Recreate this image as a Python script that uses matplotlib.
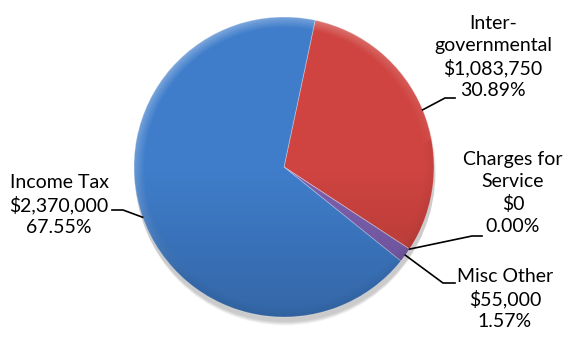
import numpy as np
import matplotlib
matplotlib.use("Agg")
import matplotlib.pyplot as plt
from matplotlib.patches import Circle

# data
categories = ["Inter-\ngovernmental", "Charges for\nService", "Misc Other", "Income Tax"]
amounts = [1083750, 0, 55000, 2370000]
percents = ["30.89%", "0.00%", "1.57%", "67.55%"]
colors = ["#CF4440", "#7D60B0", "#7D60B0", "#3F7DCB"]

W, H = 564, 342
fig = plt.figure(figsize=(W / 100, H / 100), dpi=100)
ax = fig.add_axes([0, 0, 1, 1])
ax.set_xlim(0, W)
ax.set_ylim(0, H)
ax.set_aspect("equal")
ax.axis("off")

cx, cy, r = 284, H - 167, 150
start = 78  # degrees, first slice starts slightly right of 12 o'clock

# soft shadow under the pie
for k in range(6):
    ax.add_patch(Circle((cx + 1, cy - 4 - k), r + 1 - k * 0.3, color="black",
                        alpha=0.035, lw=0, zorder=1))

wedges, _ = ax.pie(amounts, colors=colors, startangle=start, counterclock=False,
                   center=(cx, cy), radius=r, frame=True,
                   wedgeprops=dict(linewidth=0.6, edgecolor=(1, 1, 1, 0.35)))
for w in wedges:
    w.set_zorder(2)
ax.set_xlim(0, W)
ax.set_ylim(0, H)
ax.axis("off")

# shading overlay: lighter top, darker bottom, bevelled rim
n = 400
yy, xx = np.mgrid[0:n, 0:n]
u = (xx - n / 2) / (n / 2)
v = (n / 2 - yy) / (n / 2)
rr = np.sqrt(u ** 2 + v ** 2)
rgba = np.zeros((n, n, 4))
dark = np.clip(-v, 0, 1) * 0.18
rim = np.clip((rr - 0.93) / 0.07, 0, 1)
light = rim * np.clip(v * 0.5 - u * 0.3 + 0.2, 0, 1) * 0.35
rgba[..., :3] = (light / (light + dark + 1e-9))[..., None]
rgba[..., 3] = np.clip(light + dark + rim * 0.05, 0, 1)
im = ax.imshow(rgba, extent=(cx - r, cx + r, cy - r, cy + r), zorder=3,
               interpolation="bilinear")
im.set_clip_path(Circle((cx, cy), r, transform=ax.transData))

plt.rcParams["font.family"] = ["Lato", "DejaVu Sans"]

# label layout: text centre, elbow point, end of horizontal leader
layout = [
    ((493, 57), (445, 98), (455, 98)),
    ((513, 193), (472, 236), (482, 236)),
    ((505, 299), (443, 283), (455, 283)),
    ((59, 205), (123, 210), (112, 210)),
]

cum = 0.0
total = sum(amounts)
for cat, amt, pct, (tpos, elbow, end) in zip(categories, amounts, percents, layout):
    frac = amt / total
    mid = start - 360 * (cum + frac / 2)
    cum += frac
    a = np.radians(mid)
    p0 = (cx + r * np.cos(a), cy + r * np.sin(a))
    ex, ey = elbow[0], H - elbow[1]
    fx, fy = end[0], H - end[1]
    ax.plot([p0[0], ex, fx], [p0[1], ey, fy], color="black", lw=1.2, zorder=4,
            solid_joinstyle="miter")
    txt = f"{cat}\n${amt:,.0f}\n{pct}"
    ax.text(tpos[0], H - tpos[1], txt, ha="center", va="center", fontsize=14,
            linespacing=1.33, color="black", zorder=5)

fig.savefig("out.png", dpi=100)
